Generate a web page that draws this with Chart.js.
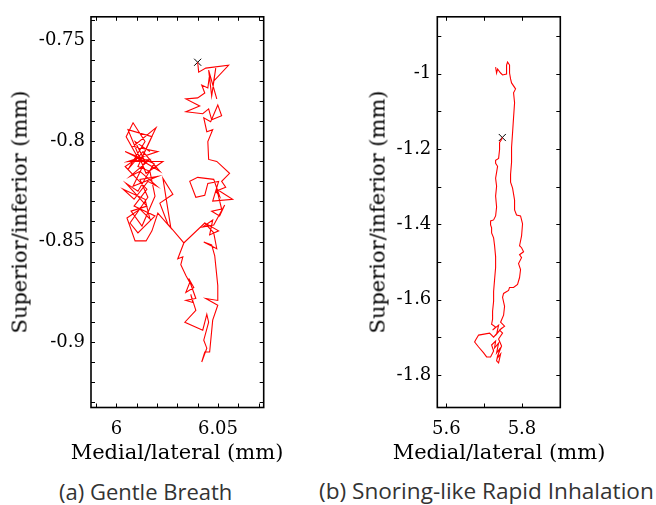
<!DOCTYPE html>
<html>
<head>
<meta charset="utf-8">
<script src="https://cdn.jsdelivr.net/npm/chart.js@4.4.1/dist/chart.umd.min.js"></script>
<style>
  body { margin: 0; width: 656px; height: 505px; background: #fff; position: relative; overflow: hidden; }
  canvas { position: absolute; top: 0; }
  #chartA { left: 0; }
  #chartB { left: 330px; }
  .axt { position: absolute; font-family: "DejaVu Serif", serif; font-size: 21px; line-height: 1; color: #000; white-space: nowrap; }
  .axt.x { transform: translateX(-50%); }
  .axt.y { transform: translate(-50%, -50%) rotate(-90deg); }
  .caption { position: absolute; top: 480px; font-family: "Open Sans", "Noto Sans", sans-serif; font-size: 22px; line-height: 22px; color: #333; white-space: nowrap; }
</style>
</head>
<body>
<canvas id="chartA" width="290" height="475"></canvas>
<canvas id="chartB" width="300" height="475"></canvas>
<div class="axt y" style="left:20px; top:212px">Superior/inferior (mm)</div>
<div class="axt x" style="left:177px; top:442px">Medial/lateral (mm)</div>
<div class="axt y" style="left:378px; top:212px">Superior/inferior (mm)</div>
<div class="axt x" style="left:499px; top:442px">Medial/lateral (mm)</div>
<div class="caption" style="left:59px">(a) Gentle Breath</div>
<div class="caption" style="left:319px; font-size:22.6px">(b) Snoring-like Rapid Inhalation</div>
<script>
// (a) gentle breath trajectory, mm
const gentleX = [6.0400, 6.0405, 6.0440, 6.0552, 6.0479, 6.0489, 6.0469, 6.0454, 6.0494, 6.0459,
  6.0450, 6.0420, 6.0435, 6.0400, 6.0342, 6.0410, 6.0342, 6.0425, 6.0454, 6.0469,
  6.0518, 6.0499, 6.0464, 6.0430, 6.0445, 6.0474, 6.0450, 6.0454, 6.0494, 6.0557,
  6.0518, 6.0538, 6.0489, 6.0508, 6.0479, 6.0400, 6.0361, 6.0391, 6.0435, 6.0450,
  6.0503, 6.0474, 6.0572, 6.0494, 6.0518, 6.0469, 6.0508, 6.0533, 6.0479, 6.0425,
  6.0474, 6.0459, 6.0503, 6.0435, 6.0332, 6.0302, 6.0327, 6.0317, 6.0342, 6.0361,
  6.0342, 6.0381, 6.0356, 6.0391, 6.0342, 6.0376, 6.0366, 6.0391, 6.0337, 6.0425,
  6.0445, 6.0454, 6.0430, 6.0445, 6.0420, 6.0435, 6.0459, 6.0474, 6.0499, 6.0440,
  6.0499, 6.0499, 6.0484, 6.0469, 6.0430, 6.0494, 6.0479, 6.0435, 6.0332, 6.0253,
  6.0214, 6.0278, 6.0229, 6.0268, 6.0204, 6.0175, 6.0146, 6.0092, 6.0052, 6.0116,
  6.0165, 6.0141, 6.0033, 6.0087, 6.0155, 6.0200, 6.0116, 6.0067, 6.0165, 6.0057,
  6.0204, 6.0082, 6.0195, 6.0116, 6.0048, 6.0082, 6.0141, 6.0057, 6.0131, 6.0214,
  6.0092, 6.0043, 6.0185, 6.0106, 6.0048, 6.0150, 6.0072, 6.0126, 6.0190, 6.0165,
  6.0106, 6.0175, 6.0057, 6.0146, 6.0229, 6.0072, 6.0116, 6.0043, 6.0150, 6.0087,
  6.0190, 6.0106, 6.0067, 6.0155, 6.0116, 6.0204, 6.0082, 6.0141, 6.0092, 6.0165];
const gentleY = [-0.7609, -0.7658, -0.7638, -0.7624, -0.7703, -0.7638, -0.7777, -0.7648, -0.7791, -0.7668,
  -0.7737, -0.7722, -0.7762, -0.7786, -0.7791, -0.7826, -0.7855, -0.7865, -0.7841, -0.7895,
  -0.7875, -0.7821, -0.7905, -0.7885, -0.7954, -0.7944, -0.8003, -0.8092, -0.8102, -0.8161,
  -0.8201, -0.8230, -0.8250, -0.8275, -0.8191, -0.8181, -0.8201, -0.8280, -0.8270, -0.8211,
  -0.8201, -0.8299, -0.8290, -0.8240, -0.8339, -0.8349, -0.8373, -0.8319, -0.8418, -0.8428,
  -0.8393, -0.8467, -0.8447, -0.8408, -0.8507, -0.8586, -0.8576, -0.8615, -0.8669, -0.8704,
  -0.8753, -0.8729, -0.8684, -0.8783, -0.8793, -0.8803, -0.8763, -0.8842, -0.8901, -0.8941,
  -0.8862, -0.8901, -0.8990, -0.9030, -0.9099, -0.9049, -0.9049, -0.8891, -0.8817, -0.8783,
  -0.8793, -0.8719, -0.8571, -0.8517, -0.8502, -0.8536, -0.8457, -0.8408, -0.8507, -0.8413,
  -0.8309, -0.8265, -0.8186, -0.8433, -0.8359, -0.8447, -0.8497, -0.8497, -0.8383, -0.8339,
  -0.8388, -0.8290, -0.8240, -0.8290, -0.8201, -0.8225, -0.8151, -0.8176, -0.8092, -0.8102,
  -0.8053, -0.8028, -0.7934, -0.8102, -0.7979, -0.7910, -0.8003, -0.8142, -0.8053, -0.8151,
  -0.8077, -0.8053, -0.8112, -0.8250, -0.8211, -0.8324, -0.8349, -0.8423, -0.8275, -0.8151,
  -0.8127, -0.7979, -0.7944, -0.8161, -0.8102, -0.8102, -0.8077, -0.8127, -0.8240, -0.8324,
  -0.8373, -0.8457, -0.8408, -0.8280, -0.8191, -0.8176, -0.8225, -0.8102, -0.8003, -0.8053];

// (b) snoring-like rapid inhalation trajectory, mm
const rapidX = [5.7480, 5.7461, 5.7408, 5.7408, 5.7382, 5.7303, 5.7303, 5.7355, 5.7329, 5.7303,
  5.7329, 5.7303, 5.7329, 5.7303, 5.7250, 5.7170, 5.7170, 5.7197, 5.7197, 5.7250,
  5.7276, 5.7303, 5.7303, 5.7276, 5.7250, 5.7250, 5.7223, 5.7223, 5.7197, 5.7303,
  5.7223, 5.7382, 5.7329, 5.7461, 5.7250, 5.7144, 5.6853, 5.6774, 5.6748, 5.6853,
  5.6986, 5.7065, 5.7170, 5.7250, 5.7197, 5.7303, 5.7276, 5.7382, 5.7329, 5.7408,
  5.7355, 5.7435, 5.7382, 5.7329, 5.7355, 5.7461, 5.7382, 5.7487, 5.7408, 5.7540,
  5.7435, 5.7514, 5.7540, 5.7487, 5.7514, 5.7646, 5.7672, 5.7778, 5.7884, 5.7937,
  5.7963, 5.7910, 5.7990, 5.7937, 5.8043, 5.7990, 5.7937, 5.7990, 5.8016, 5.7963,
  5.7857, 5.7805, 5.7805, 5.7752, 5.7699, 5.7699, 5.7725, 5.7725, 5.7752, 5.7778,
  5.7805, 5.7778, 5.7831, 5.7725, 5.7699, 5.7672, 5.7672, 5.7620, 5.7593, 5.7593,
  5.7487, 5.7435, 5.7355, 5.7329, 5.7303];
const rapidY = [-1.1694, -1.1747, -1.1826, -1.2011, -1.2247, -1.2300, -1.2379, -1.2458, -1.2617, -1.2775,
  -1.2986, -1.3249, -1.3539, -1.3776, -1.3881, -1.3908, -1.4013, -1.4092, -1.4224, -1.4356,
  -1.4566, -1.4856, -1.5146, -1.5462, -1.5779, -1.6042, -1.6306, -1.6516, -1.6648, -1.6727,
  -1.6806, -1.6675, -1.6912, -1.6754, -1.6991, -1.6886, -1.6938, -1.7070, -1.7122, -1.7254,
  -1.7412, -1.7518, -1.7518, -1.7360, -1.7201, -1.7096, -1.7280, -1.7149, -1.7412, -1.7307,
  -1.7544, -1.7439, -1.7676, -1.7623, -1.7491, -1.7228, -1.7043, -1.6886, -1.6806, -1.6701,
  -1.6595, -1.6411, -1.6174, -1.5937, -1.5832, -1.5752, -1.5673, -1.5673, -1.5594, -1.5410,
  -1.5199, -1.5041, -1.4883, -1.4804, -1.4725, -1.4619, -1.4566, -1.4303, -1.3987, -1.3776,
  -1.3750, -1.3618, -1.3355, -1.3038, -1.2880, -1.2669, -1.2353, -1.1958, -1.1563, -1.1167,
  -1.0772, -1.0509, -1.0403, -1.0245, -1.0140, -0.9982, -0.9771, -0.9692, -0.9771, -1.0008,
  -1.0034, -0.9982, -0.9876, -0.9982, -0.9824];

// tick marks (every position) and the ones that get a label
const gentleXTicks = [5.99, 6.00, 6.01, 6.02, 6.03, 6.04, 6.05, 6.06, 6.07];
const gentleXLabels = [6, 6.05];
const gentleYTicks = [-0.93, -0.92, -0.91, -0.90, -0.89, -0.88, -0.87, -0.86, -0.85, -0.84,
  -0.83, -0.82, -0.81, -0.80, -0.79, -0.78, -0.77, -0.76, -0.75, -0.74];
const gentleYLabels = [-0.75, -0.8, -0.85, -0.9];
const rapidXTicks = [5.6, 5.7, 5.8, 5.9];
const rapidXLabels = [5.6, 5.8];
const rapidYTicks = [-1.8, -1.7, -1.6, -1.5, -1.4, -1.3, -1.2, -1.1, -1.0, -0.9];
const rapidYLabels = [-1, -1.2, -1.4, -1.6, -1.8];

Chart.defaults.font.family = "DejaVu Serif";
Chart.defaults.font.size = 18;
Chart.defaults.color = "#000";

// box round the plot area + short inward ticks on all four sides
const boxTicks = {
  id: "boxTicks",
  afterDraw(chart) {
    const { ctx, chartArea: a, scales } = chart;
    const len = 4;
    ctx.save();
    ctx.strokeStyle = "#000";
    ctx.lineWidth = 1;
    ctx.beginPath();
    scales.x.ticks.forEach((t) => {
      const px = Math.round(scales.x.getPixelForValue(t.value)) + 0.5;
      ctx.moveTo(px, a.bottom); ctx.lineTo(px, a.bottom - len);
      ctx.moveTo(px, a.top); ctx.lineTo(px, a.top + len);
    });
    scales.y.ticks.forEach((t) => {
      const py = Math.round(scales.y.getPixelForValue(t.value)) + 0.5;
      ctx.moveTo(a.left, py); ctx.lineTo(a.left + len, py);
      ctx.moveTo(a.right, py); ctx.lineTo(a.right - len, py);
    });
    ctx.stroke();
    ctx.lineWidth = 1.6;
    ctx.strokeRect(a.left, a.top, a.right - a.left, a.bottom - a.top);
    ctx.restore();
  },
};

const has = (list, v) => list.some((m) => Math.abs(m - v) < 1e-9);

function makeChart(id, xs, ys, lim, xTicks, xLabels, yTicks, yLabels, box) {
  const path = xs.map((x, i) => ({ x, y: ys[i] }));
  return new Chart(document.getElementById(id), {
    type: "scatter",
    data: {
      datasets: [
        {
          data: path,
          showLine: true,
          borderColor: "#ff0000",
          borderWidth: 1.1,
          pointRadius: 0,
          tension: 0,
        },
        {
          data: [path[0]],
          pointStyle: "crossRot",
          pointRadius: 5,
          borderColor: "#000",
          borderWidth: 1,
        },
      ],
    },
    options: {
      responsive: false,
      animation: false,
      events: [],
      layout: { padding: { top: box.top, right: box.right, left: 0, bottom: 0 } },
      plugins: { legend: { display: false }, tooltip: { enabled: false } },
      scales: {
        x: {
          type: "linear",
          min: lim.x0, max: lim.x1,
          afterBuildTicks: (s) => { s.ticks = xTicks.map((value) => ({ value })); },
          afterFit: (s) => { s.height = box.xh; },
          grid: { display: false, drawTicks: false },
          border: { display: false },
          ticks: {
            autoSkip: false, maxRotation: 0, padding: 11,
            font: { family: "DejaVu Serif", size: 18 },
            callback: (v) => (has(xLabels, v) ? String(+v.toFixed(4)) : ""),
          },
        },
        y: {
          type: "linear",
          min: lim.y0, max: lim.y1,
          afterBuildTicks: (s) => { s.ticks = yTicks.map((value) => ({ value })); },
          afterFit: (s) => { s.width = box.yw; },
          grid: { display: false, drawTicks: false },
          border: { display: false },
          ticks: {
            autoSkip: false, padding: 6,
            font: { family: "DejaVu Serif", size: 18 },
            callback: (v) => (has(yLabels, v) ? String(+v.toFixed(4)) : ""),
          },
        },
      },
    },
    plugins: [boxTicks],
  });
}

makeChart("chartA", gentleX, gentleY,
  { x0: 5.9875, x1: 6.0725, y0: -0.9325, y1: -0.7383 },
  gentleXTicks, gentleXLabels, gentleYTicks, gentleYLabels,
  { top: 14, right: 26.3, yw: 91, xh: 67.5 });

makeChart("chartB", rapidX, rapidY,
  { x0: 5.576, x1: 5.9015, y0: -1.886, y1: -0.849 },
  rapidXTicks, rapidXLabels, rapidYTicks, rapidYLabels,
  { top: 14, right: 69.7, yw: 107.3, xh: 67.5 });
</script>
</body>
</html>
